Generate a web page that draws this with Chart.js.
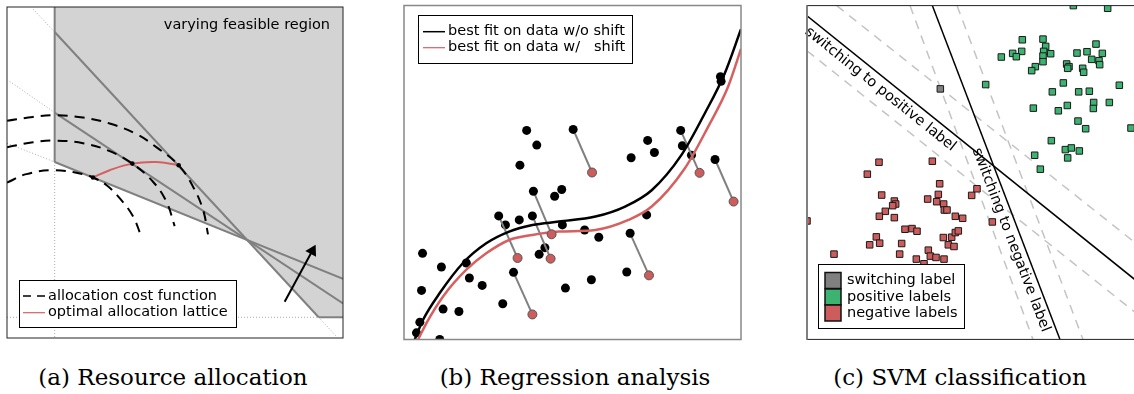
<!DOCTYPE html>
<html>
<head>
<meta charset="utf-8">
<script src="https://cdn.jsdelivr.net/npm/chart.js@4.4.1/dist/chart.umd.min.js"></script>
<style>
  body { margin: 0; width: 1134px; height: 394px; overflow: hidden; background: #fff; position: relative; }
  canvas { position: absolute; top: 0; }
  #chartA { left: 0; }
  #chartB { left: 397px; }
  #chartC { left: 800px; }
  .cap { position: absolute; top: 366px; width: 360px; text-align: center; font-family: "DejaVu Serif", serif; font-size: 23px; line-height: 23px; color: #000; }
</style>
</head>
<body>
<canvas id="chartA" width="350" height="345"></canvas>
<canvas id="chartB" width="354" height="345"></canvas>
<canvas id="chartC" width="350" height="345"></canvas>
<div class="cap" style="left:-7px">(a) Resource allocation</div>
<div class="cap" style="left:395px">(b) Regression analysis</div>
<div class="cap" style="left:780px">(c) SVM classification</div>
<script>
// ---- (a) resource allocation (axis units 0..100) ----
const regionX = [14.3, 71.8, 93.5, 100.8];
const regionY = [53.5, 30.2, 6.3, 6.3];
const edgeX0 = [14.3, 14.3, 14.3, 14.3, 93.5];
const edgeY0 = [93.0, 68.5, 53.5, 100.6, 6.3];
const edgeX1 = [93.5, 100.8, 100.8, 14.3, 100.8];
const edgeY1 = [6.3, 10.5, 18.0, 53.5, 6.3];
const guideX0 = [7.8, 93.5, 0.8, 0, 14.3, 0];
const guideY0 = [100.0, 6.3, 78.0, 59.2, 53.5, 6.3];
const guideX1 = [14.3, 98.8, 14.3, 14.3, 14.3, 93.5];
const guideY1 = [93.0, 0.5, 68.5, 53.5, 0, 6.3];
const costInnerX = [0, 5.8, 14.3, 22.8, 25.8, 29.8, 33.8, 37.8, 40.3];
const costInnerY = [47.2, 49.8, 51.0, 49.8, 48.8, 46.5, 42.5, 37.0, 30.8];
const costMidX = [0, 7.8, 14.3, 22.8, 30.8, 37.6, 43.8, 47.8, 50.3];
const costMidY = [58.0, 59.5, 60.0, 59.2, 56.8, 53.0, 47.5, 41.5, 34.0];
const costOuterX = [0, 7.8, 14.3, 22.8, 30.8, 38.8, 44.8, 51.5, 55.8, 58.8, 60.3];
const costOuterY = [66.0, 67.2, 67.7, 67.0, 65.2, 62.0, 58.0, 52.5, 46.0, 39.0, 31.5];
const latticeX = [25.8, 30.8, 37.6, 44.8, 51.5];
const latticeY = [48.8, 51.0, 53.0, 53.5, 52.5];
const optimaX = [25.8, 37.6, 51.5];
const optimaY = [48.8, 53.0, 52.5];
const arrowX = [83.3, 91.6];
const arrowY = [11.0, 26.5];

// ---- (b) regression (axis units 0..100) ----
const dataX = [36.4, 39.4, 34.4, 67.4, 72.3, 74.3, 82.6, 85.3, 93.9, 94.1, 46.8, 44.7, 30.1, 34.2, 47.0, 53.6, 57.8, 72.0,
  41.8, 40.1, 5.5, 11.1, 18.5, 19.4, 23.2, 47.9, 55.6, 66.1, 5.2, 11.6, 16.3, 29.3, 4.7, 3.7, 10.6];
const dataY = [62.6, 58.2, 52.2, 54.4, 59.6, 56.0, 58.0, 55.2, 78.7, 77.3, 44.9, 42.9, 34.3, 35.8, 34.3, 32.8, 30.6, 37.3,
  27.5, 25.5, 25.8, 21.7, 22.9, 18.4, 16.2, 15.4, 17.9, 20.2, 14.7, 9.1, 8.4, 10.7, 5.2, 2.0, 0];
const movedX = [50.2, 82.1, 92.3, 38.4, 28.1, 38.1, 67.1, 32.5];
const movedY = [62.9, 62.6, 53.9, 44.4, 37.0, 37.0, 31.8, 20.1];
const shiftedX = [55.8, 87.7, 97.8, 43.8, 33.7, 43.5, 72.7, 38.1];
const shiftedY = [50.0, 49.9, 41.3, 31.5, 24.4, 24.2, 19.2, 7.5];
const fitX = [3.2, 5.7, 10.6, 17.5, 24.4, 31.2, 38.1, 46.0, 56.8, 65.6, 73.5, 82.3, 89.2, 95.1, 100];
const fitY = [0, 6.0, 13.9, 22.9, 28.8, 32.3, 34.3, 35.3, 36.8, 39.8, 44.7, 55.2, 67.6, 79.5, 92.9];
const shiftFitX = [4.2, 6.7, 11.6, 18.5, 24.4, 31.2, 38.1, 46.0, 56.8, 66.6, 73.5, 83.3, 90.2, 96.1, 100];
const shiftFitY = [0, 5.0, 12.9, 20.9, 25.8, 29.8, 31.3, 32.3, 32.8, 35.8, 39.8, 51.2, 63.6, 75.5, 87.0];

// ---- (c) SVM classification (axis units 0..100) ----
const switchX = [40.0];
const switchY = [75.5];
const posX = [79.9, 90.2, 64.6, 70.8, 71.6, 71.0, 64.4, 61.7, 62.8, 58.3, 70.8, 73.1, 70.8, 68.5, 67.4, 77.9, 78.6, 78.2,
  81.0, 84.0, 86.7, 88.6, 85.4, 87.6, 87.8, 82.7, 83.0, 53.6, 76.9, 73.6, 81.5, 84.7, 93.7, 67.9, 75.4, 78.1, 86.0, 85.9,
  90.7, 81.3, 83.6, 97.2, 73.3, 77.5, 79.3, 81.7, 78.2, 68.3, 70.0];
const posY = [100.6, 99.8, 90.3, 90.5, 88.3, 86.8, 86.8, 86.2, 85.2, 85.1, 85.4, 86.1, 83.7, 82.2, 81.0, 83.0, 82.2, 81.7,
  86.3, 86.7, 89.0, 86.2, 84.4, 84.0, 82.8, 81.7, 80.5, 76.8, 77.3, 74.6, 74.6, 74.8, 76.6, 69.7, 68.9, 70.5, 71.4, 69.6,
  71.4, 65.8, 63.5, 63.7, 59.9, 57.2, 57.7, 56.8, 54.7, 55.5, 51.3];
const negX = [21.6, 37.6, 18.1, 39.8, 22.4, 39.4, 36.2, 38.9, 41.0, 26.2, 26.6, 25.7, 23.5, 21.7, 26.2, 41.2, 42.0, 44.5,
  46.7, 49.4, 51.0, 55.6, 0, 29.4, 31.5, 33.0, 20.8, 18.8, 21.8, 28.4, 40.9, 43.4, 44.5, 45.4, 42.4, 44.1, 8.1, 27.8,
  36.4, 37.0, 38.7, 41.1, 32.8, 35.1];
const negY = [53.4, 53.7, 49.8, 46.9, 43.5, 43.7, 42.3, 41.5, 40.8, 41.7, 40.8, 40.3, 38.6, 37.1, 36.7, 39.0, 39.0, 37.1,
  36.5, 43.4, 45.4, 35.4, 35.7, 33.2, 33.4, 32.6, 30.9, 28.5, 29.0, 28.9, 30.7, 30.8, 32.2, 32.7, 28.5, 28.0, 25.7, 25.7,
  26.9, 25.1, 24.7, 24.2, 24.2, 22.8];
const posLineX = [0, 100.5];
const posLineY = [97.5, 16.3];
const negLineX = [37.6, 75.9];
const negLineY = [100.6, 0];
const marginX0 = [30.9, 45.0, 8.9, 0];
const marginY0 = [100.6, 100.6, 100.6, 87.0];
const marginX1 = [67.8, 82.8, 100.5, 100.5];
const marginY1 = [0, 0, 27.5, 6.5];

const FONT = '14.5px "DejaVu Sans", sans-serif';
const RED = '#d65f5f';

const pts = (xs, ys) => xs.map((x, i) => ({ x: x, y: ys[i] }));

function lineSet(xs, ys, color, width, extra) {
  return Object.assign({
    data: pts(xs, ys), showLine: true, borderColor: color, borderWidth: width,
    pointRadius: 0, fill: false, tension: 0
  }, extra || {});
}

function segSets(x0, y0, x1, y1, color, width, extra) {
  return x0.map((x, i) => lineSet([x, x1[i]], [y0[i], y1[i]], color, width, extra));
}

function dotSet(xs, ys, extra) {
  return Object.assign({ data: pts(xs, ys), showLine: false, borderWidth: 0 }, extra);
}

function options(xmax, ymax, pad) {
  return {
    animation: false,
    responsive: false,
    devicePixelRatio: 1,
    layout: { padding: pad },
    plugins: { legend: { display: false }, tooltip: { enabled: false } },
    scales: {
      x: { type: 'linear', min: 0, max: xmax, display: false },
      y: { type: 'linear', min: 0, max: ymax, display: false }
    }
  };
}

function frame(color, lw) {
  return {
    id: 'frame',
    afterDraw(chart) {
      const a = chart.chartArea, c = chart.ctx;
      c.save();
      c.strokeStyle = color;
      c.lineWidth = lw;
      c.strokeRect(a.left, a.top, a.right - a.left, a.bottom - a.top);
      c.restore();
    }
  };
}

function legendBox(c, x, y, w, h) {
  c.fillStyle = '#fff';
  c.fillRect(x, y, w, h);
  c.strokeStyle = '#000';
  c.lineWidth = 1;
  c.strokeRect(x + 0.5, y + 0.5, w, h);
}

function legendLine(c, x0, x1, y, color, dash, text, tx) {
  c.save();
  c.strokeStyle = color;
  c.lineWidth = color === '#000' ? 1.5 : 1.2;
  c.setLineDash(dash);
  c.beginPath(); c.moveTo(x0, y); c.lineTo(x1, y); c.stroke();
  c.restore();
  c.font = FONT; c.fillStyle = '#000'; c.textBaseline = 'middle';
  c.fillText(text, tx, y);
}

// ---------- chart (a) ----------
const dotted = { borderDash: [1, 2] };
const dashed = { borderDash: [10, 7], tension: 0.4 };
new Chart(document.getElementById('chartA'), {
  type: 'scatter',
  data: {
    datasets: [
      lineSet(arrowX, arrowY, '#000', 2, {
        pointRadius: [0, 5], pointStyle: 'triangle', pointRotation: [0, 28],
        pointBackgroundColor: '#000', pointBorderColor: '#000', order: 0
      }),
      dotSet(optimaX, optimaY, { pointRadius: 2.3, pointBackgroundColor: '#000', order: 1 }),
      lineSet(latticeX, latticeY, RED, 2, { tension: 0.4, order: 2 }),
      lineSet(costInnerX, costInnerY, '#000', 2, Object.assign({ order: 3 }, dashed)),
      lineSet(costMidX, costMidY, '#000', 2, Object.assign({ order: 3 }, dashed)),
      lineSet(costOuterX, costOuterY, '#000', 2, Object.assign({ order: 3 }, dashed)),
      ...segSets(edgeX0, edgeY0, edgeX1, edgeY1, '#808080', 2, { order: 4 }),
      ...segSets(guideX0, guideY0, guideX1, guideY1, '#aaaaaa', 1, Object.assign({ order: 5 }, dotted)),
      lineSet(regionX, regionY, '#d3d3d3', 0, { fill: 'end', backgroundColor: '#d3d3d3', order: 6 })
    ]
  },
  options: options(100.8, 100.6, { left: 7, right: 7, top: 5, bottom: 5 }),
  plugins: [frame('#222', 1), {
    id: 'decoA',
    afterDraw(chart) {
      const c = chart.ctx;
      c.save();
      c.font = FONT; c.fillStyle = '#000'; c.textAlign = 'right'; c.textBaseline = 'alphabetic';
      c.fillText('varying feasible region', 330, 29);
      c.textAlign = 'left';
      legendBox(c, 19, 280, 217, 47);
      legendLine(c, 23, 45, 296, '#000', [8, 6], 'allocation cost function', 48);
      legendLine(c, 23, 45, 312.7, RED, [], 'optimal allocation lattice', 48);
      c.restore();
    }
  }]
});

// ---------- chart (b) ----------
const moveSegs = segSets(movedX, movedY, shiftedX, shiftedY, '#808080', 2, { order: 3 });
new Chart(document.getElementById('chartB'), {
  type: 'scatter',
  data: {
    datasets: [
      dotSet(shiftedX, shiftedY, { pointRadius: 4.5, pointBackgroundColor: '#cd5c5c', pointBorderColor: '#555', pointBorderWidth: 1, order: 0 }),
      lineSet(fitX, fitY, '#000', 2.5, { cubicInterpolationMode: 'monotone', order: 1 }),
      lineSet(shiftFitX, shiftFitY, RED, 2.5, { cubicInterpolationMode: 'monotone', order: 1 }),
      dotSet(movedX, movedY, { pointRadius: 4.5, pointBackgroundColor: '#000', order: 2 }),
      ...moveSegs,
      dotSet(dataX, dataY, { pointRadius: 4.5, pointBackgroundColor: '#000', order: 4 })
    ]
  },
  options: options(100, 100, { left: 7, right: 10, top: 5, bottom: 5 }),
  plugins: [frame('#888', 1.5), {
    id: 'decoB',
    afterDraw(chart) {
      const c = chart.ctx;
      c.save();
      legendBox(c, 21, 15, 214, 48);
      legendLine(c, 26, 48, 31.7, '#000', [], 'best fit on data w/o shift', 51);
      legendLine(c, 26, 48, 47.7, RED, [], 'best fit on data w/   shift', 51);
      c.restore();
    }
  }]
});

// ---------- chart (c) ----------
function labelAlong(chart, lx, ly, tx, ty, text, off) {
  const sx = chart.scales.x, sy = chart.scales.y, c = chart.ctx;
  const x0 = sx.getPixelForValue(lx[0]), y0 = sy.getPixelForValue(ly[0]);
  const x1 = sx.getPixelForValue(lx[1]), y1 = sy.getPixelForValue(ly[1]);
  c.save();
  c.translate(sx.getPixelForValue(tx), sy.getPixelForValue(ty));
  c.rotate(Math.atan2(y1 - y0, x1 - x0));
  c.font = FONT; c.fillStyle = '#000'; c.textBaseline = 'top';
  c.fillText(text, 0, off);
  c.restore();
}

const square = { pointStyle: 'rect', pointRadius: 4.6, pointBorderColor: '#1a1a1a', pointBorderWidth: 1 };
new Chart(document.getElementById('chartC'), {
  type: 'scatter',
  data: {
    datasets: [
      dotSet(switchX, switchY, Object.assign({ pointBackgroundColor: '#808080', order: 0 }, square)),
      dotSet(posX, posY, Object.assign({ pointBackgroundColor: '#3cb371', order: 0 }, square)),
      dotSet(negX, negY, Object.assign({ pointBackgroundColor: '#cd5c5c', order: 0 }, square)),
      lineSet(posLineX, posLineY, '#000', 1.5, { order: 1 }),
      lineSet(negLineX, negLineY, '#000', 1.5, { order: 1 }),
      ...segSets(marginX0, marginY0, marginX1, marginY1, '#c4c4c4', 1.5, { borderDash: [9, 7], order: 2 })
    ]
  },
  options: options(100.5, 100.6, { left: 7, right: 8, top: 5, bottom: 5 }),
  plugins: [{
    id: 'decoC',
    afterDatasetsDraw(chart) {
      labelAlong(chart, posLineX, posLineY, 2.0, 95.9, 'switching to positive label', 4);
      labelAlong(chart, negLineX, negLineY, 53.6, 58.6, 'switching to negative label', 3);
    },
    afterDraw(chart) {
      const a = chart.chartArea, c = chart.ctx;
      c.save();
      c.strokeStyle = '#222'; c.lineWidth = 1;
      c.strokeRect(a.left, a.top, a.right - a.left, a.bottom - a.top);
      c.strokeStyle = '#808080'; c.lineWidth = 2;
      c.beginPath(); c.moveTo(a.left, a.top); c.lineTo(a.left, a.bottom); c.stroke();
      legendBox(c, 18, 264, 146, 64);
      const rows = [['#808080', 'switching label', 272.5], ['#3cb371', 'positive labels', 289], ['#cd5c5c', 'negative labels', 305]];
      rows.forEach(r => {
        c.fillStyle = r[0];
        c.fillRect(25, r[2], 16, 16);
        c.strokeStyle = '#111'; c.lineWidth = 1.5;
        c.strokeRect(25, r[2], 16, 16);
        c.font = FONT; c.fillStyle = '#000'; c.textBaseline = 'middle';
        c.fillText(r[1], 47, r[2] + 8);
      });
      c.restore();
    }
  }]
});
</script>
</body>
</html>
